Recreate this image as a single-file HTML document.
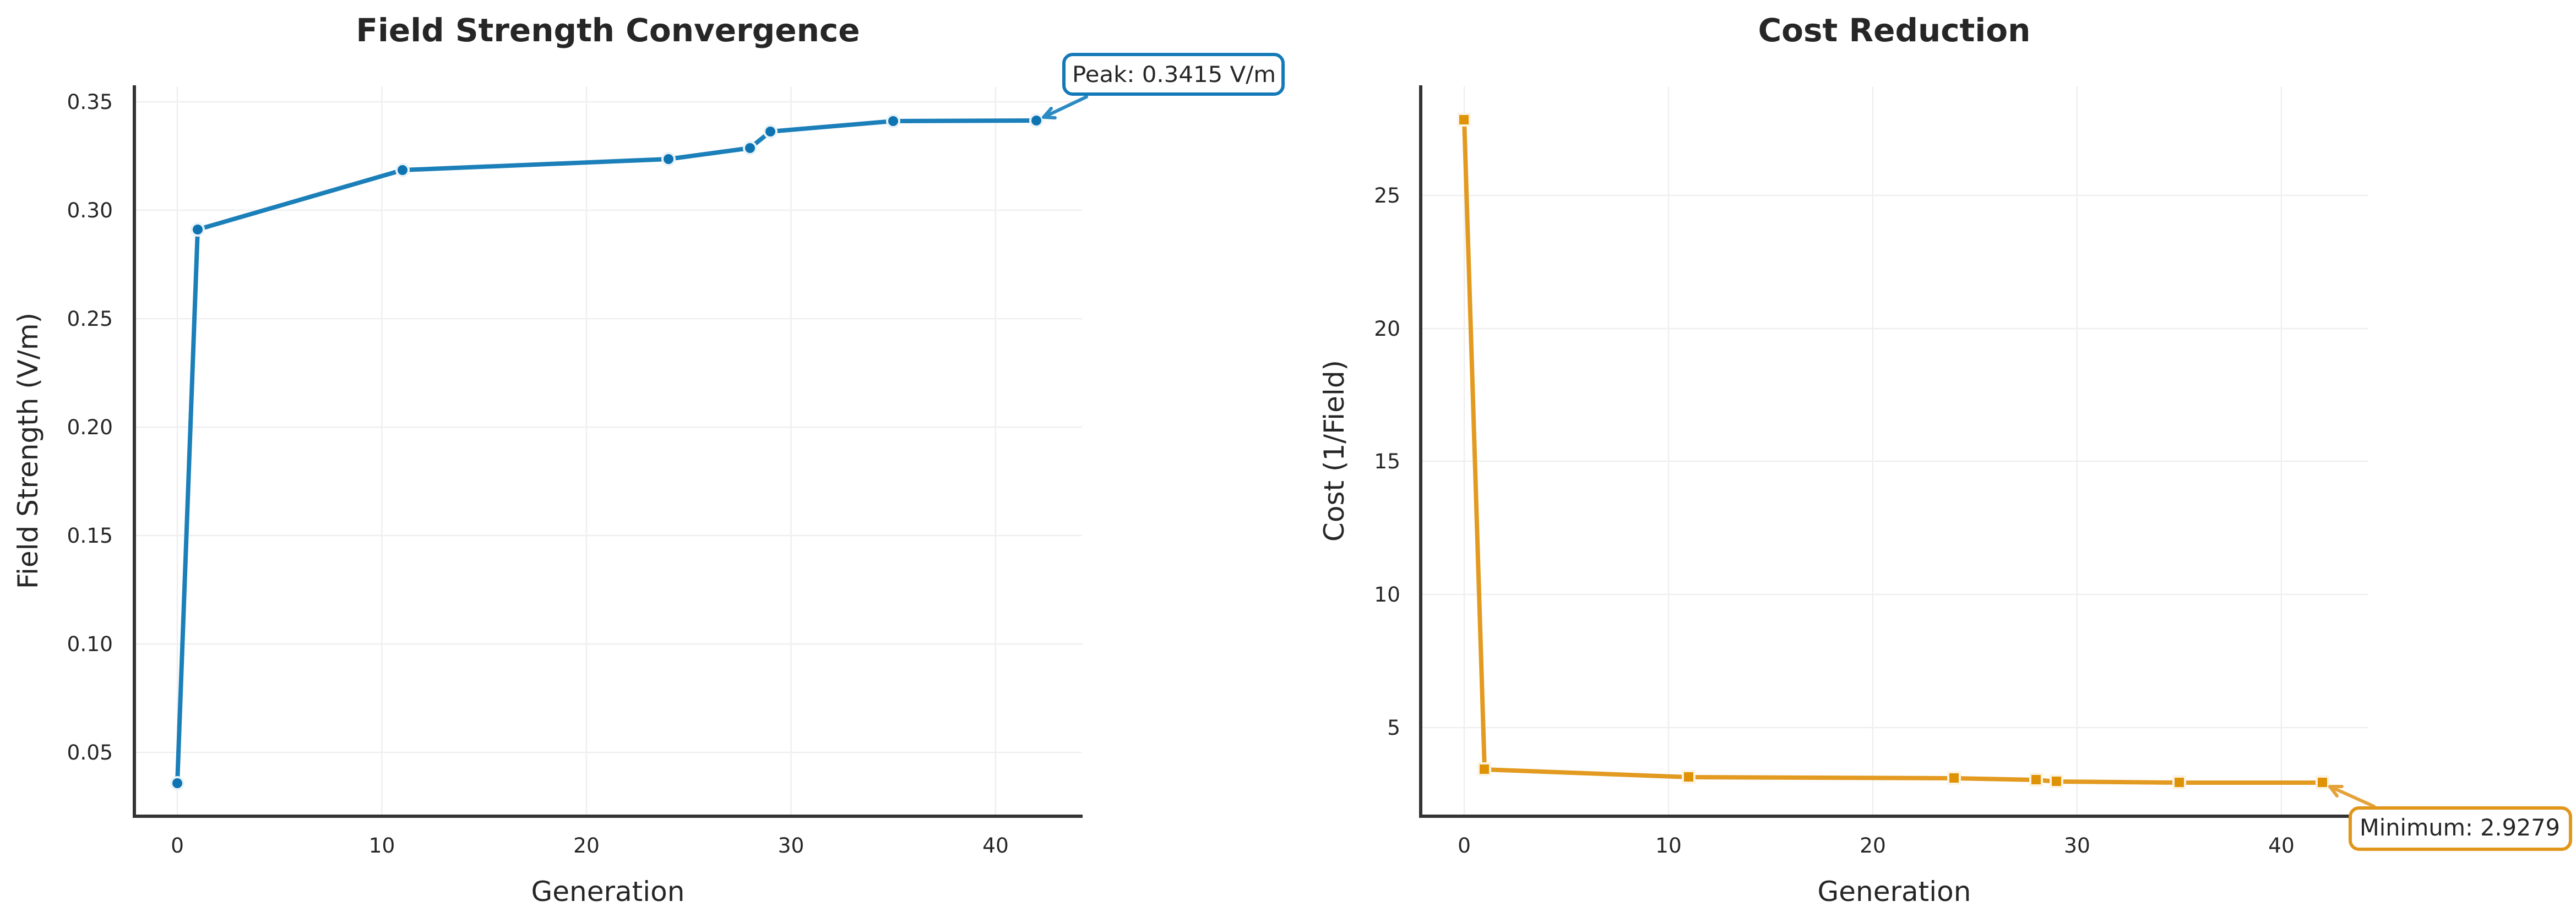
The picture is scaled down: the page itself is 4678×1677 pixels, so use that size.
<!DOCTYPE html>
<html><head><meta charset="utf-8"><style>
html,body{margin:0;padding:0;background:#fff;}
svg{display:block;}
text{font-family:"DejaVu Sans","Liberation Sans",sans-serif;fill:#262626;}
</style></head><body>
<svg width="4678" height="1677" viewBox="0 0 4678 1677" xmlns="http://www.w3.org/2000/svg">
<rect width="4678" height="1677" fill="#fff"/>
<!-- LEFT PANEL -->
<g stroke="#efefef" stroke-width="2.5">
<line x1="322" y1="157" x2="322" y2="1483"/><line x1="693.5" y1="157" x2="693.5" y2="1483"/><line x1="1065" y1="157" x2="1065" y2="1483"/><line x1="1436.5" y1="157" x2="1436.5" y2="1483"/><line x1="1808" y1="157" x2="1808" y2="1483"/>
<line x1="244" y1="1367" x2="1965" y2="1367"/><line x1="244" y1="1170" x2="1965" y2="1170"/><line x1="244" y1="973" x2="1965" y2="973"/><line x1="244" y1="776" x2="1965" y2="776"/><line x1="244" y1="579" x2="1965" y2="579"/><line x1="244" y1="382" x2="1965" y2="382"/><line x1="244" y1="185" x2="1965" y2="185"/>
</g>
<polyline points="322,1423 359,417 731,309 1214,289 1362,269 1399,239 1622,220 1882,219" fill="none" stroke="#1b7fb9" stroke-width="8" stroke-linejoin="round"/>
<g fill="#0e73b1" stroke="#e8f3f9" stroke-width="4">
<circle cx="322" cy="1423" r="11"/><circle cx="359" cy="417" r="11"/><circle cx="731" cy="309" r="11"/><circle cx="1214" cy="289" r="11"/><circle cx="1362" cy="269" r="11"/><circle cx="1399" cy="239" r="11"/><circle cx="1622" cy="220" r="11"/><circle cx="1882" cy="219" r="11"/>
</g>
<g stroke="#333" stroke-width="6" fill="none"><polyline points="244,155 244,1483 1966,1483"/></g>
<g font-size="37.5" text-anchor="end">
<text x="205" y="1380">0.05</text><text x="205" y="1183">0.10</text><text x="205" y="986">0.15</text><text x="205" y="789">0.20</text><text x="205" y="592">0.25</text><text x="205" y="395">0.30</text><text x="205" y="198">0.35</text>
</g>
<g font-size="37.5" text-anchor="middle">
<text x="322" y="1549">0</text><text x="693.5" y="1549">10</text><text x="1065" y="1549">20</text><text x="1436.5" y="1549">30</text><text x="1808" y="1549">40</text>
</g>
<text x="1104" y="1637" font-size="50" text-anchor="middle">Generation</text>
<text transform="translate(68,819) rotate(-90)" font-size="50" text-anchor="middle">Field Strength (V/m)</text>
<text x="1104" y="75" font-size="58" font-weight="bold" text-anchor="middle">Field Strength Convergence</text>
<path d="M1973,176 L1895,213 M1895,213 L1909,197 M1895,213 L1916,214" stroke="#2a8ac4" stroke-width="6" fill="none" stroke-linecap="round"/>
<rect x="1932" y="99" width="398" height="72" rx="16" fill="#fff" stroke="#1479b8" stroke-width="6"/>
<text x="1947" y="149" font-size="40" textLength="370" lengthAdjust="spacingAndGlyphs">Peak: 0.3415 V/m</text>
<!-- RIGHT PANEL -->
<g stroke="#efefef" stroke-width="2.5">
<line x1="2659" y1="157" x2="2659" y2="1483"/><line x1="3030" y1="157" x2="3030" y2="1483"/><line x1="3401" y1="157" x2="3401" y2="1483"/><line x1="3772" y1="157" x2="3772" y2="1483"/><line x1="4143" y1="157" x2="4143" y2="1483"/>
<line x1="2580" y1="1322" x2="4301" y2="1322"/><line x1="2580" y1="1080" x2="4301" y2="1080"/><line x1="2580" y1="838" x2="4301" y2="838"/><line x1="2580" y1="597" x2="4301" y2="597"/><line x1="2580" y1="355" x2="4301" y2="355"/>
</g>
<polyline points="2659,218 2696,1398 3067,1412 3549,1414 3698,1417 3735,1420 3958,1422 4218,1422" fill="none" stroke="#e39a20" stroke-width="8" stroke-linejoin="round"/>
<g fill="#df9304" stroke="#fcf3e3" stroke-width="4">
<rect x="2648" y="207" width="21" height="21"/><rect x="2685" y="1387" width="21" height="21"/><rect x="3056" y="1401" width="21" height="21"/><rect x="3538" y="1403" width="21" height="21"/><rect x="3687" y="1406" width="21" height="21"/><rect x="3724" y="1409" width="21" height="21"/><rect x="3947" y="1411" width="21" height="21"/><rect x="4207" y="1411" width="21" height="21"/>
</g>
<g stroke="#333" stroke-width="6" fill="none"><polyline points="2580,155 2580,1483 4302,1483"/></g>
<g font-size="37.5" text-anchor="end">
<text x="2543" y="1335">5</text><text x="2543" y="1093">10</text><text x="2543" y="851">15</text><text x="2543" y="610">20</text><text x="2543" y="368">25</text>
</g>
<g font-size="37.5" text-anchor="middle">
<text x="2659" y="1549">0</text><text x="3030" y="1549">10</text><text x="3401" y="1549">20</text><text x="3772" y="1549">30</text><text x="4143" y="1549">40</text>
</g>
<text x="3440" y="1637" font-size="50" text-anchor="middle">Generation</text>
<text transform="translate(2440,819) rotate(-90)" font-size="50" text-anchor="middle">Cost (1/Field)</text>
<text x="3440" y="75" font-size="58" font-weight="bold" text-anchor="middle">Cost Reduction</text>
<path d="M4311,1465 L4231,1429 M4231,1429 L4244,1446 M4231,1429 L4253,1429" stroke="#e5a23a" stroke-width="6" fill="none" stroke-linecap="round"/>
<rect x="4268" y="1468" width="400" height="75" rx="16" fill="#fff" stroke="#e0961a" stroke-width="6"/>
<text x="4285" y="1518" font-size="41.5" textLength="364" lengthAdjust="spacingAndGlyphs">Minimum: 2.9279</text>
</svg>
</body></html>
